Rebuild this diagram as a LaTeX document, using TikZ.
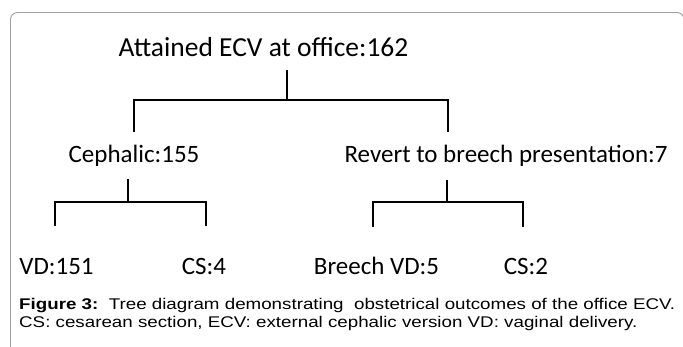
\documentclass[tikz,border=0pt]{standalone}
\usepackage{fontspec}
\setmainfont{Carlito}
\newfontfamily\capfont{Liberation Sans}
\definecolor{framec}{RGB}{160,160,160}
\begin{document}
\begin{tikzpicture}[x=1pt,y=-1pt,
  lbl/.style={anchor=base, inner sep=0pt, font=\fontsize{25}{30}\selectfont},
  toplbl/.style={lbl, font=\fontsize{27.5}{32}\selectfont},
  conn/.style={line width=1.1pt, black},
  captext/.style={anchor=base west, inner sep=0pt, font=\capfont\fontsize{15.5}{18}\selectfont}]
\useasboundingbox (0,0) rectangle (683,347);
\draw[framec, line width=0.9pt, rounded corners=7pt] (10.5,12.5) rectangle (684,360);
% nodes
\node[toplbl] (root) at (263.5,57) {Attained ECV at office:162};
\node[lbl] (ceph) at (134,163) {Cephalic:155};
\node[lbl] (rev) at (506,163) {Revert to breech presentation:7};
\node[lbl] (vd) at (56.5,275) {VD:151};
\node[lbl] (cs4) at (204,275) {CS:4};
\node[lbl] (bvd) at (376.5,275) {Breech VD:5};
\node[lbl] (cs2) at (526,275) {CS:2};
% junction coordinates
\coordinate (r0) at (287,70);
\coordinate (r1) at (287,100);
\coordinate (rl) at (134,132);
\coordinate (rr) at (448,132);
\coordinate (c0) at (128,179);
\coordinate (c1) at (128,202);
\coordinate (cl) at (55,226);
\coordinate (cr) at (206,226);
\coordinate (v0) at (447,180);
\coordinate (v1) at (447,202);
\coordinate (vl) at (373,227);
\coordinate (vr) at (523,227);
% connectors
\draw[conn] (r0) -- (r1);
\draw[conn] (rl) |- (r1) -| (rr);
\draw[conn] (c0) -- (c1);
\draw[conn] (cl) |- (c1) -| (cr);
\draw[conn] (v0) -- (v1);
\draw[conn] (vl) |- (v1) -| (vr);
% caption
\node[captext] (cap1) at (19,310) {\scalebox{1.21}[1]{\textbf{Figure 3:}\ \ Tree diagram demonstrating\ \ obstetrical outcomes of the office ECV.}};
\node[captext] (cap2) at (19,327.5) {\scalebox{1.21}[1]{CS: cesarean section, ECV: external cephalic version VD: vaginal delivery.}};
\end{tikzpicture}
\end{document}
